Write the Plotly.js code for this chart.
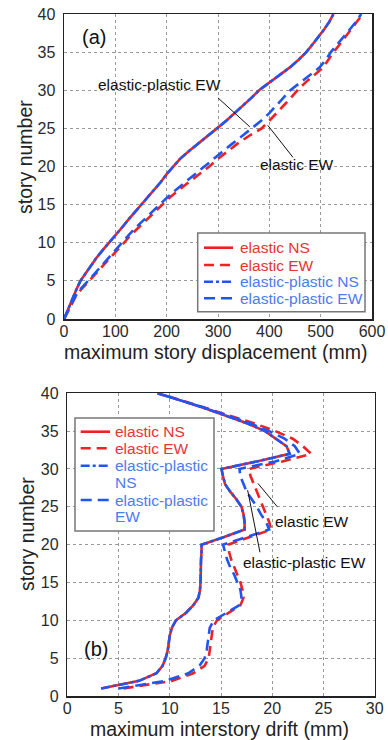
<!DOCTYPE html>
<html>
<head>
<meta charset="utf-8">
<script src="https://cdn.plot.ly/plotly-3.0.1.min.js"></script>
<style>
html,body{margin:0;padding:0;background:#fff;}
#chart{width:388px;height:740px;}
</style>
</head>
<body>
<div id="chart"></div>
<script>
// ---------- data: (a) maximum story displacement (mm) ----------
const storiesA = [0,1,2,3,4,5,6,7,8,9,10,11,12,13,14,15,16,17,18,19,20,21,22,23,24,25,26,27,28,29,30,31,32,33,34,35,36,37,38,39,40];
const dispElasticNS = [0,6,12,18,25,32,42,52,63,75,88,100,113,125,138,150,163,176,189,200,213,226,243,262,280,298,316,333,350,365,380,400,420,440,457,472,484,496,507,517,525];
const dispElasticEW = [0,8,16,23,35,50,63,76,90,103,117,130,145,160,175,190,207,225,245,264,283,300,318,338,360,385,400,415,428,442,455,470,488,505,515,525,537,548,560,571,582];
const dispPlasticNS = [0,6,12,18,25,32,42,52,63,75,88,100,113,125,138,150,163,176,189,200,213,226,243,262,280,298,316,333,350,365,380,400,420,440,457,472,484,496,507,517,525];
const dispPlasticEW = [0,8,15,22,33,47,60,73,86,99,112,126,140,155,170,186,202,219,237,255,272,290,308,328,347,366,384,400,414,428,441,460,480,498,510,520,532,545,557,569,579];

// ---------- data: (b) maximum interstory drift (mm) ----------
const storiesB = [1,2,3,4,5,6,7,8,9,10,11,12,13,14,15,16,17,18,19,20,21,22,23,24,25,26,27,28,29,30,31,32,33,34,35,36,37,38,39,40];
const driftElasticNS = [3.3,7.0,8.7,9.3,9.6,9.8,9.9,10.0,10.2,10.6,11.6,12.3,12.8,12.95,13.0,13.0,13.05,13.05,13.1,13.1,15.3,17.3,17.3,17.2,17.0,16.5,15.9,15.4,15.2,15.05,18.5,21.7,21.4,20.4,19.3,17.6,15.6,13.5,11.2,8.8];
const driftElasticEW = [5.5,10.2,12.3,13.4,13.8,13.9,14.0,14.1,14.2,14.6,15.8,16.9,17.2,17.1,16.9,16.6,16.3,16.0,15.8,15.7,17.8,19.9,19.7,19.4,19.1,18.8,18.5,18.2,17.9,17.7,21.0,23.8,23.0,22.0,20.3,18.3,16.0,13.8,11.3,8.9];
const driftPlasticNS = [3.3,7.0,8.7,9.3,9.6,9.8,9.9,10.0,10.2,10.6,11.6,12.3,12.8,12.95,13.0,13.0,13.05,13.05,13.1,13.1,15.3,17.3,17.3,17.2,17.0,16.5,15.9,15.4,15.2,15.05,18.5,21.7,21.4,20.4,19.3,17.6,15.6,13.5,11.2,8.8];
const driftPlasticEW = [5.0,9.6,11.8,12.9,13.4,13.6,13.7,13.8,13.9,14.3,15.6,16.8,17.0,16.9,16.6,16.3,15.9,15.6,15.4,15.2,17.5,19.7,19.4,18.9,18.5,18.0,17.5,17.2,16.9,16.8,20.3,22.7,22.2,21.2,19.7,17.9,15.8,13.6,11.2,8.8];

// ---------- labels ----------
const namesA = ['elastic NS','elastic EW','elastic-plastic NS','elastic-plastic EW'];
const namesB = [['elastic NS'],['elastic EW'],['elastic-plastic','NS'],['elastic-plastic','EW']];
const xTitleA = 'maximum story displacement (mm)';
const xTitleB = 'maximum interstory drift (mm)';
const yTitle = 'story number';
const ticksDisp = [0,100,200,300,400,500,600];
const ticksDrift = [0,5,10,15,20,25,30];
const ticksStory = [0,5,10,15,20,25,30,35,40];

const RED = 'rgb(236,34,36)';
const BLUE = 'rgb(32,86,240)';
const RED_TXT = 'rgb(232,52,52)';
const BLUE_TXT = 'rgb(78,122,240)';
const FONT = 'Liberation Sans, Arial, sans-serif';
const W = 388, H = 740;
const px = v => v / W;
const py = v => 1 - v / H;

const styles = [
  {color: RED, dash: 'solid', tc: RED_TXT},
  {color: RED, dash: '10px,6px', tc: RED_TXT},
  {color: BLUE, dash: '9px,3px,3px,3px', tc: BLUE_TXT},
  {color: BLUE, dash: '11px,6px', tc: BLUE_TXT}
];

const seriesA = [dispElasticNS, dispElasticEW, dispPlasticNS, dispPlasticEW];
const seriesB = [driftElasticNS, driftElasticEW, driftPlasticNS, driftPlasticEW];

const traces = [];
seriesA.forEach((s, i) => {
  traces.push({
    x: s, y: storiesA, xaxis: 'x', yaxis: 'y', mode: 'lines', name: namesA[i], showlegend: false,
    line: {color: styles[i].color, width: 2.6, dash: styles[i].dash}
  });
});
seriesB.forEach((s, i) => {
  traces.push({
    x: s, y: storiesB, xaxis: 'x2', yaxis: 'y2', mode: 'lines', name: namesB[i].join(' '), showlegend: false,
    line: {color: styles[i].color, width: 2.6, dash: styles[i].dash}
  });
});

const axBase = {
  showline: true, linecolor: '#222', linewidth: 1.5, mirror: true,
  showgrid: true, gridcolor: '#9a9a9a', gridwidth: 1, griddash: 'dot',
  zeroline: false, ticks: '',
  tickfont: {family: FONT, size: 16, color: '#2a2a2a'},
  automargin: false
};

const annotations = [];
const shapes = [];
const txt = (x, y, t, opts) => annotations.push(Object.assign({
  xref: 'paper', yref: 'paper', x: px(x), y: py(y), text: t, showarrow: false,
  xanchor: 'center', yanchor: 'middle',
  font: {family: FONT, size: 15.5, color: '#111'}
}, opts || {}));

// axis titles
txt(215, 352, xTitleA, {font: {family: FONT, size: 19.5, color: '#222'}});
txt(219, 729, xTitleB, {font: {family: FONT, size: 19.5, color: '#222'}});
txt(25, 157, yTitle, {textangle: -90, font: {family: FONT, size: 19.5, color: '#222'}});
txt(27, 534, yTitle, {textangle: -90, font: {family: FONT, size: 19.5, color: '#222'}});

// panel labels and callouts
const dataTxt = (xr, yr, x, y, t, size) => annotations.push({
  xref: xr, yref: yr, x: x, y: y, text: t, showarrow: false, xanchor: 'center', yanchor: 'middle',
  font: {family: FONT, size: size, color: '#111'}
});
dataTxt('x', 'y', 58, 37, '(a)', 20);
dataTxt('x', 'y', 187, 30.7, 'elastic-plastic EW', 15.5);
dataTxt('x', 'y', 454, 20.3, 'elastic EW', 15.5);
dataTxt('x2', 'y2', 2.8, 6.2, '(b)', 20);
dataTxt('x2', 'y2', 23.9, 23.1, 'elastic EW', 15.5);
dataTxt('x2', 'y2', 23.1, 17.6, 'elastic-plastic EW', 15.5);
shapes.push(
  {type: 'line', xref: 'x', yref: 'y', x0: 300, y0: 29.0, x1: 362, y1: 25.2, line: {color: '#111', width: 1}},
  {type: 'line', xref: 'x', yref: 'y', x0: 446, y0: 21.2, x1: 397, y1: 25.4, line: {color: '#111', width: 1}},
  {type: 'line', xref: 'x2', yref: 'y2', x0: 20.5, y0: 25.0, x1: 18.6, y1: 28.1, line: {color: '#111', width: 1}},
  {type: 'line', xref: 'x2', yref: 'y2', x0: 18.8, y0: 19.0, x1: 17.6, y1: 27.2, line: {color: '#111', width: 1}}
);

// legend (a)
shapes.push({type: 'rect', xref: 'paper', yref: 'paper', x0: px(197.7), x1: px(365), y0: py(311.7), y1: py(233),
  fillcolor: '#fff', line: {color: '#777', width: 1.5}, layer: 'above'});
const legAy = [247.7, 265, 281.7, 298.3];
namesA.forEach((n, i) => {
  shapes.push({type: 'line', xref: 'paper', yref: 'paper', x0: px(204), x1: px(233), y0: py(legAy[i]), y1: py(legAy[i]),
    line: {color: styles[i].color, width: 2.6, dash: styles[i].dash}, layer: 'above'});
  txt(238, legAy[i], n, {xanchor: 'left', font: {family: FONT, size: 15.5, color: styles[i].tc}});
});

// legend (b)
shapes.push({type: 'rect', xref: 'paper', yref: 'paper', x0: px(75), x1: px(214), y0: py(531), y1: py(418),
  fillcolor: '#fff', line: {color: '#777', width: 1.5}, layer: 'above'});
const legBy = [431.7, 448.3, 465.7, 500];
const lineStep = 16.8;
namesB.forEach((lines, i) => {
  shapes.push({type: 'line', xref: 'paper', yref: 'paper', x0: px(80.7), x1: px(110), y0: py(legBy[i]), y1: py(legBy[i]),
    line: {color: styles[i].color, width: 2.6, dash: styles[i].dash}, layer: 'above'});
  lines.forEach((t, k) => {
    txt(113.3, legBy[i] + k * lineStep, t, {xanchor: 'left', font: {family: FONT, size: 15.5, color: styles[i].tc}});
  });
});

const layout = {
  width: W, height: H,
  margin: {l: 0, r: 0, t: 0, b: 0},
  paper_bgcolor: '#fff', plot_bgcolor: '#fff',
  showlegend: false,
  font: {family: FONT, color: '#222'},
  xaxis: Object.assign({}, axBase, {domain: [px(64), px(372)], anchor: 'y', range: [0, 600], tickvals: ticksDisp, ticklabelstandoff: -3}),
  yaxis: Object.assign({}, axBase, {domain: [py(319), py(14)], anchor: 'x', range: [0, 40], tickvals: ticksStory, ticklabelstandoff: 4}),
  xaxis2: Object.assign({}, axBase, {domain: [px(67.3), px(374.7)], anchor: 'y2', range: [0, 30], tickvals: ticksDrift, ticklabelstandoff: -3}),
  yaxis2: Object.assign({}, axBase, {domain: [py(696), py(393.3)], anchor: 'x2', range: [0, 40], tickvals: ticksStory, ticklabelstandoff: 4}),
  annotations: annotations,
  shapes: shapes
};

Plotly.newPlot('chart', traces, layout, {staticPlot: true, displayModeBar: false});
</script>
</body>
</html>
